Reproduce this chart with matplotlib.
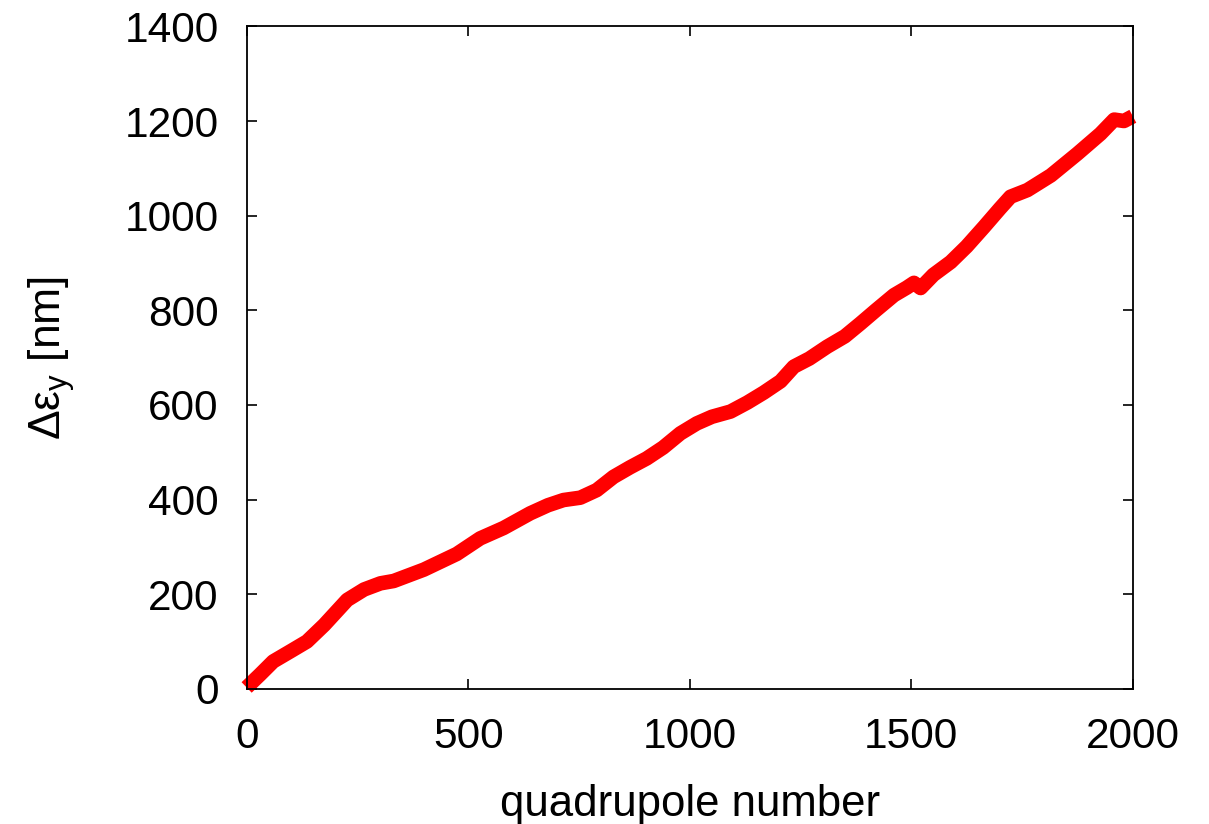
import matplotlib
matplotlib.use("Agg")
import matplotlib.pyplot as plt

plt.rcParams['font.family'] = ['Liberation Sans', 'DejaVu Sans']
plt.rcParams['mathtext.fontset'] = 'custom'
plt.rcParams['mathtext.rm'] = 'Liberation Sans'
plt.rcParams['mathtext.it'] = 'Liberation Sans'
plt.rcParams['mathtext.bf'] = 'Liberation Sans:bold'

quad = [0, 30, 60, 100, 136, 175, 227, 265, 302, 332, 400, 474, 527, 580, 640,
        680, 715, 753, 790, 828, 865, 903, 940, 979, 1016, 1050, 1092, 1130,
        1167, 1205, 1235, 1270, 1310, 1350, 1385, 1420, 1461, 1490, 1506, 1521,
        1550, 1589, 1625, 1664, 1700, 1724, 1762, 1815, 1875, 1927, 1958, 1980, 2000]
d_eps = [3, 30, 58, 80, 100, 135, 188, 210, 223, 228, 252, 285, 318, 340, 371,
         388, 399, 404, 420, 448, 468, 487, 510, 540, 561, 575, 586, 605,
         626, 650, 681, 698, 723, 745, 772, 800, 832, 848, 858, 847,
         875, 902, 935, 976, 1015, 1040, 1054, 1085, 1131, 1173, 1203, 1200, 1210]

xticks = [0, 500, 1000, 1500, 2000]
yticks = [0, 200, 400, 600, 800, 1000, 1200, 1400]

fig = plt.figure(figsize=(12.09, 8.24), dpi=100)
ax = fig.add_axes([0.204, 0.164, 0.733, 0.804])
ax.plot(quad, d_eps, color='#ff0000', lw=10.5, solid_capstyle='butt',
        solid_joinstyle='round', clip_on=False)
ax.set_xlim(0, 2000)
ax.set_ylim(0, 1400)
ax.set_xticks(xticks)
ax.set_yticks(yticks)
ax.tick_params(direction='in', length=7, width=1.2, labelsize=30.5, pad=20,
               top=True, right=True)
for s in ax.spines.values():
    s.set_linewidth(1.3)
ax.set_xlabel('quadrupole number', fontsize=31.5, labelpad=20)
ax.set_ylabel(r'$\Delta\varepsilon_{y}$ [nm]', fontsize=32, labelpad=34)
fig.savefig('out.png', dpi=100)
